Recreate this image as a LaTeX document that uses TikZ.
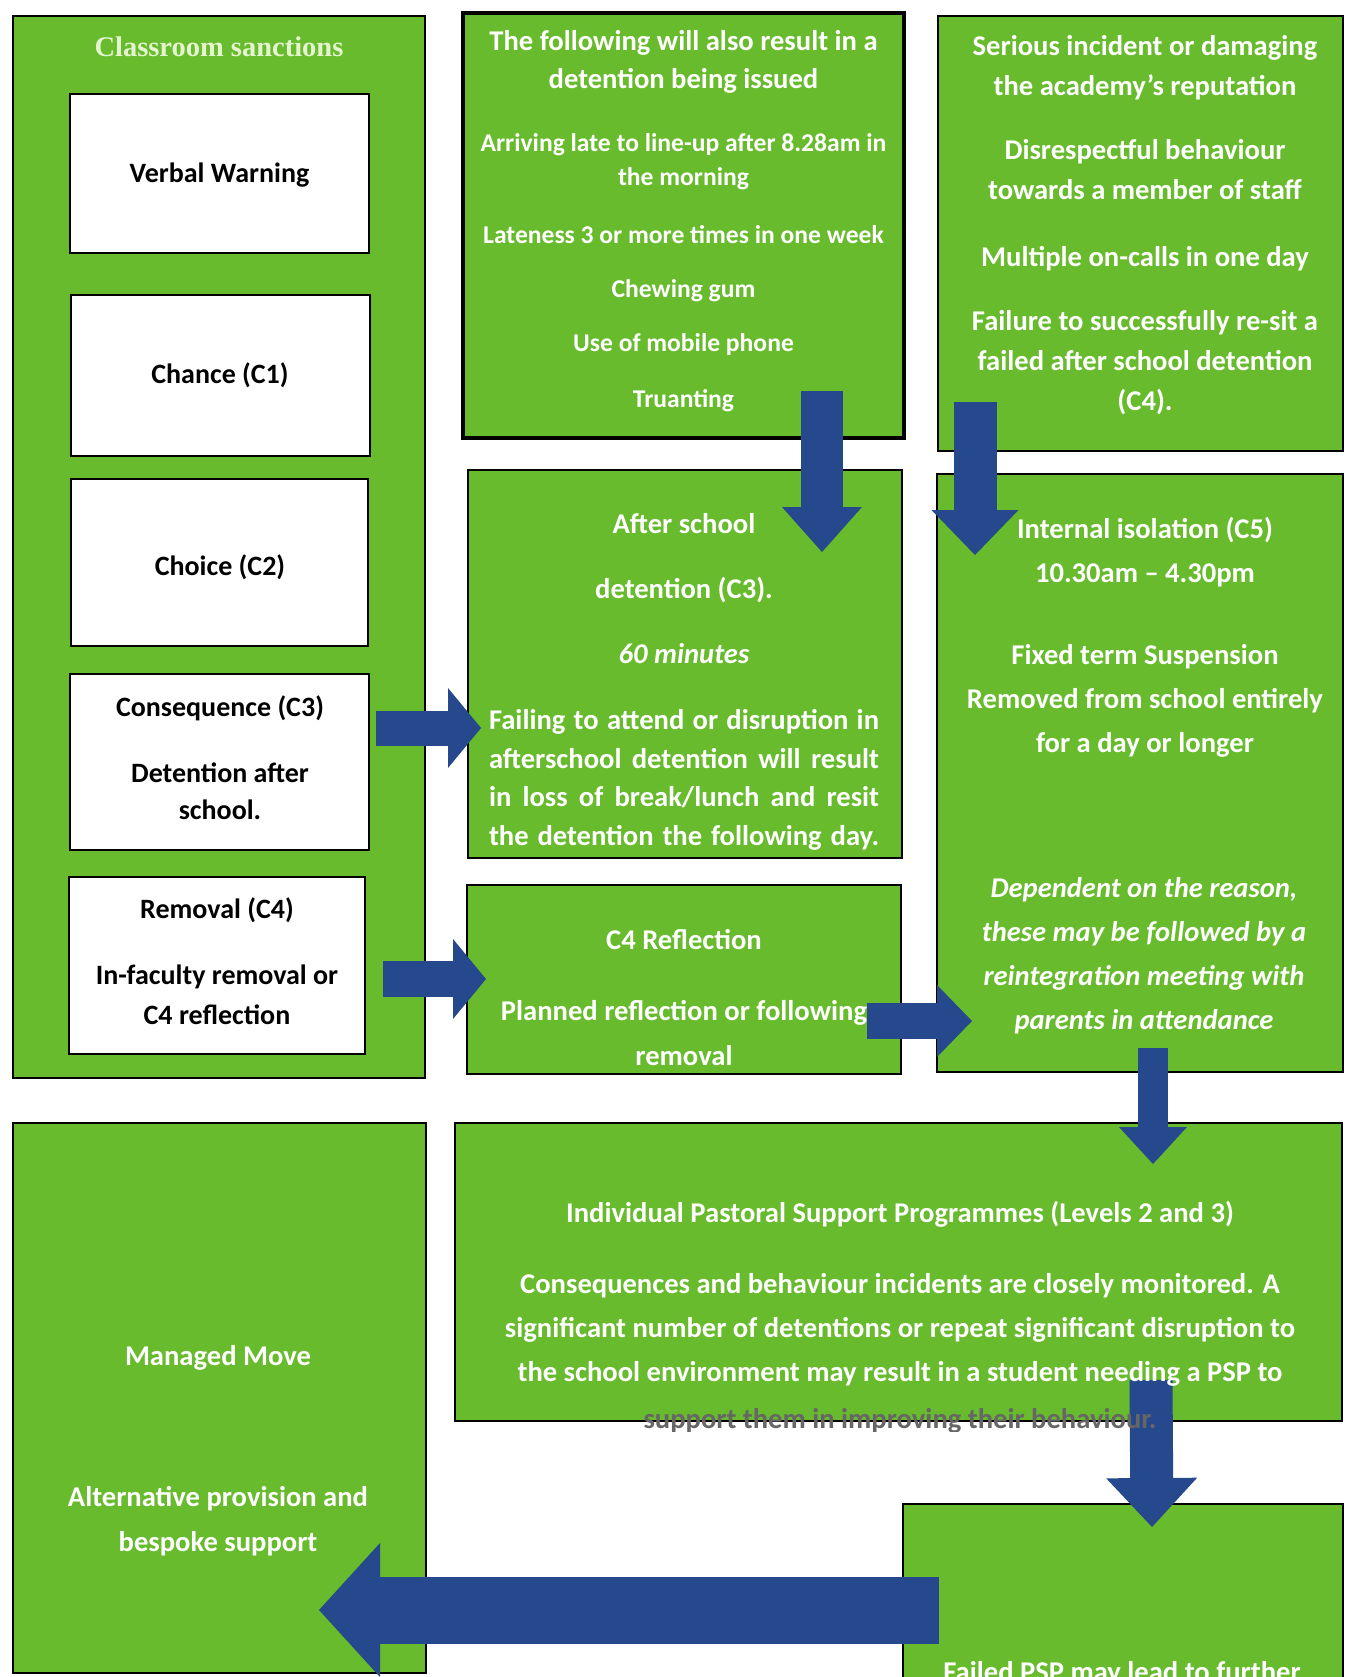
\documentclass[tikz,border=0pt]{standalone}
\usepackage{fontspec}
\setmainfont{Carlito}
\newfontfamily\headserif{Liberation Serif}
\usetikzlibrary{arrows.meta}

\definecolor{boxgreen}{RGB}{103,187,44}
\definecolor{arrowblue}{RGB}{38,72,140}
\definecolor{headcream}{RGB}{228,244,206}

\begin{document}
\begin{tikzpicture}[x=0.5pt, y=-0.5pt,
    greenbox/.style={draw=black, line width=1.2pt, fill=boxgreen},
    whitebox/.style={draw=black, line width=1.4pt, fill=white},
    boxtext/.style={text=white, align=center, inner sep=0pt, font=\fontsize{14.3}{#1}\selectfont\bfseries},
    boxtext/.default={19},
    labeltext/.style={text=black, align=center, inner sep=0pt, font=\fontsize{14}{#1}\selectfont\bfseries},
    labeltext/.default={19},
    blockarrow/.style n args={3}{arrowblue, line width=#1, -{Triangle[width=#2, length=#3, line width=0pt]}}
]
    \useasboundingbox (0,0) rectangle (1345,1677);

    % --- Classroom sanctions ---
    \draw[greenbox] (13,16) rectangle (425,1078);
    \draw[whitebox] (70,94) rectangle (369,253);
    \draw[whitebox] (71,295) rectangle (370,456);
    \draw[whitebox] (71,479) rectangle (368,646);
    \draw[whitebox] (70,674) rectangle (369,850);
    \draw[whitebox] (69,877) rectangle (365,1054);

    % --- Detention triggers and serious incidents ---
    \draw[greenbox, line width=1.6pt] (463,13) rectangle (904,438);
    \draw[greenbox] (938,16) rectangle (1343,451);

    % --- Detention, reflection, isolation ---
    \draw[greenbox] (468,470) rectangle (902,858);
    \draw[greenbox] (467,885) rectangle (901,1074);
    \draw[greenbox] (937,474) rectangle (1343,1072);

    % --- Lower row ---
    \draw[greenbox] (13,1123) rectangle (426,1673);
    \draw[greenbox] (455,1123) rectangle (1342,1421);
    \draw[greenbox] (903,1504) rectangle (1343,1690);

    % --- Block arrows ---
    \coordinate (issuedOut) at (822,391);   \coordinate (detentionIn) at (822,552);
    \coordinate (seriousOut) at (975,402);  \coordinate (isolationIn) at (975,555);
    \coordinate (consequenceOut) at (376,728); \coordinate (detentionSide) at (481,728);
    \coordinate (removalOut) at (383,979);  \coordinate (reflectionIn) at (486,979);
    \coordinate (reflectionOut) at (867,1021); \coordinate (isolationSide) at (972,1021);
    \coordinate (isolationOut) at (1153,1048); \coordinate (pspIn) at (1153,1164);
    \coordinate (pspOut) at (1151,1380);    \coordinate (failedIn) at (1152,1527);
    \coordinate (failedOut) at (939,1610);  \coordinate (managedIn) at (319,1610);

    \draw[blockarrow={21pt}{40pt}{22.5pt}] (issuedOut) -- (detentionIn);
    \draw[blockarrow={21.5pt}{43.5pt}{22.5pt}] (seriousOut) -- (isolationIn);
    \draw[blockarrow={17.5pt}{40pt}{16.5pt}] (consequenceOut) -- (detentionSide);
    \draw[blockarrow={18pt}{40pt}{16.5pt}] (removalOut) -- (reflectionIn);
    \draw[blockarrow={18pt}{36pt}{17.5pt}] (reflectionOut) -- (isolationSide);
    \draw[blockarrow={15pt}{34pt}{18.5pt}] (isolationOut) -- (pspIn);
    \draw[blockarrow={21.5pt}{45.5pt}{24.5pt}] (pspOut) -- (failedIn);
    \draw[blockarrow={33.5pt}{67pt}{30.5pt}] (failedOut) -- (managedIn);

    % --- Texts of the left column ---
    \node[text=headcream, inner sep=0pt, font=\headserif\fontsize{14.25}{17}\selectfont\bfseries] (sanctionsTitle) at (219,47) {Classroom sanctions};
    \node[labeltext] (verbal) at (219.5,175) {Verbal Warning};
    \node[labeltext] (chance) at (220,375) {Chance (C1)};
    \node[labeltext] (choice) at (220,567) {Choice (C2)};
    \node[labeltext=18.5] (consequence) at (220,757.5) {Consequence (C3)\\[14.5pt]Detention after\\school.};
    \node[labeltext=20] (removal) at (217,961) {Removal (C4)\\[13pt]In-faculty removal or\\C4 reflection};

    % --- Texts of the top row ---
    \node[boxtext=19] (issuedTitle) at (683.5,62) {The following will also result in a\\detention being issued};
    \node[boxtext, font=\fontsize{12.8}{17}\selectfont\bfseries] (issuedList) at (683.5,273)
        {Arriving late to line-up after 8.28am in\\the morning\\[12pt]Lateness 3 or more times in one week\\[10pt]Chewing gum\\[10pt]Use of mobile phone\\[11pt]Truanting};
    \node[boxtext=20] (seriousList) at (1145,225)
        {Serious incident or damaging\\the academy's reputation\\[12pt]Disrespectful behaviour\\towards a member of staff\\[13.5pt]Multiple on-calls in one day\\[12pt]Failure to successfully re-sit a\\failed after school detention\\(C4).};

    % --- Texts of the middle row ---
    \node[boxtext=32.5] (detentionHead) at (684,589) {After school\\detention (C3).\\\textit{60 minutes}};
    \node[boxtext=19.3] (detentionRule) at (684,780)
        {\makebox[195pt][s]{Failing to attend or disruption in}\\\makebox[195pt][s]{afterschool detention will result}\\\makebox[195pt][s]{in loss of break/lunch and resit}\\\makebox[195pt][s]{the detention the following day.}};
    \node[boxtext=22.5] (reflection) at (684,998) {C4 Reflection\\[13pt]Planned reflection or following\\removal};
    \node[boxtext=22] (isolation) at (1145,637) {Internal isolation (C5)\\10.30am -- 4.30pm\\[19pt]Fixed term Suspension\\Removed from school entirely\\for a day or longer};
    \node[boxtext=22, font=\fontsize{14.3}{22}\selectfont\bfseries\itshape] (reintegration) at (1144,956)
        {Dependent on the reason,\\these may be followed by a\\reintegration meeting with\\parents in attendance};

    % --- Texts of the lower row ---
    \node[boxtext] (managed) at (218,1358) {Managed Move};
    \node[boxtext=22.5] (alternative) at (218,1521.5) {Alternative provision and\\bespoke support};
    \node[boxtext] (pspHead) at (900,1214) {Individual Pastoral Support Programmes (Levels 2 and 3)};
    \node[boxtext=22] (pspBody) at (900,1329.5)
        {Consequences and behaviour incidents are closely monitored. A\\significant number of detentions or repeat significant disruption to\\the school environment may result in a student needing a PSP to};
    \begin{scope}
        \clip (455,1408) rectangle (1343,1431);
        \node[boxtext, text=black!60] (pspCut) at (900,1421) {support them in improving their behaviour.};
    \end{scope}
    \node[boxtext, anchor=base] (failedPsp) at (1122,1681) {Failed PSP may lead to further};
\end{tikzpicture}
\end{document}
